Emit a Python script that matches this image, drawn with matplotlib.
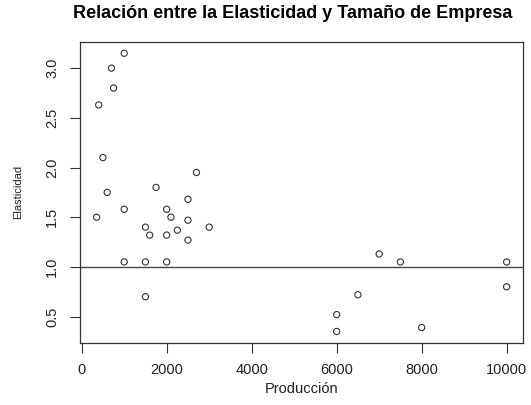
import matplotlib
matplotlib.use("Agg")
import matplotlib.pyplot as plt

# Producción de cada empresa y su elasticidad estimada
produccion = [1000, 700, 750, 400, 500, 2700, 1750, 600, 2500, 1000,
              2000, 350, 2100, 2500, 1500, 3000, 2250, 1600, 2000, 2500,
              1000, 1500, 2000, 1500,
              7000, 7500, 10000, 10000, 6500, 6000, 6000, 8000]
elasticidad = [3.15, 3.0, 2.8, 2.63, 2.1, 1.95, 1.8, 1.75, 1.68, 1.58,
               1.58, 1.5, 1.5, 1.47, 1.4, 1.4, 1.37, 1.32, 1.32, 1.27,
               1.05, 1.05, 1.05, 0.7,
               1.13, 1.05, 1.05, 0.8, 0.72, 0.52, 0.35, 0.39]
x_ticks = [0, 2000, 4000, 6000, 8000, 10000]
y_ticks = [0.5, 1.0, 1.5, 2.0, 2.5, 3.0]
referencia = 1.0

plt.rcParams['font.family'] = ['Liberation Sans', 'DejaVu Sans']

fig = plt.figure(figsize=(5.31, 4.05), dpi=100)
ax = fig.add_axes([0.151, 0.154, 0.834, 0.742])

ax.scatter(produccion, elasticidad, s=20, facecolors='none',
           edgecolors='#333333', linewidths=0.8, zorder=3)
ax.axhline(referencia, color='#444444', linewidth=1.0)

# rangos con el 4% de margen, como en R
xr = max(produccion) - min(produccion)
yr = max(elasticidad) - min(elasticidad)
ax.set_xlim(min(produccion) - 0.04 * xr, max(produccion) + 0.04 * xr)
ax.set_ylim(min(elasticidad) - 0.04 * yr, max(elasticidad) + 0.04 * yr)

ax.set_xticks(x_ticks)
ax.set_xticklabels([str(t) for t in x_ticks], fontsize=10.5)
ax.set_yticks(y_ticks)
ax.set_yticklabels([f"{t:.1f}" for t in y_ticks], fontsize=10.5,
                   rotation=90, va='center')
ax.tick_params(axis='both', length=7, width=0.8, color='#333333',
               pad=8, labelcolor='#222222')

for sp in ax.spines.values():
    sp.set_color('#333333')
    sp.set_linewidth(0.9)

ax.set_xlabel("Producción", fontsize=10.5, labelpad=3, color='#222222')
ax.set_ylabel("Elasticidad", fontsize=8, labelpad=16, color='#222222')
fig.text(0.552, 0.966, "Relación entre la Elasticidad y Tamaño de Empresa",
         ha='center', va='center', fontsize=13, fontweight='bold')

fig.savefig("out.png", dpi=100, facecolor='white')
